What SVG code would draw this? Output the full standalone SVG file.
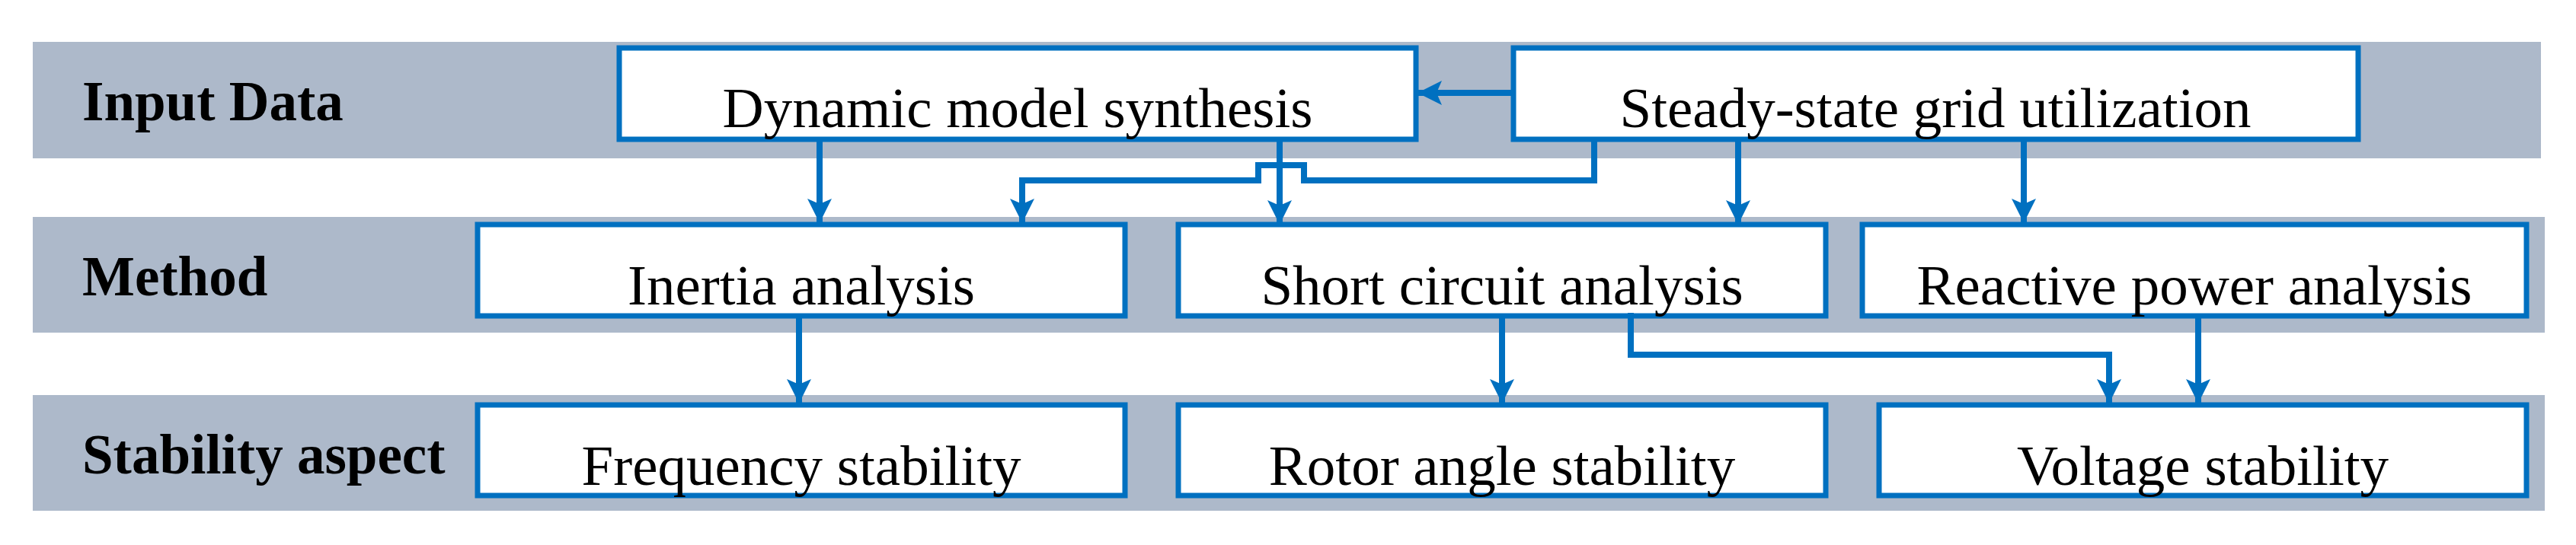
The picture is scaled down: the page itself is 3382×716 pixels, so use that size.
<svg xmlns="http://www.w3.org/2000/svg" width="3382" height="716" viewBox="0 0 3382 716">
<style>
.band{fill:#ADB9CA}
.box{fill:#fff;stroke:#0070C0;stroke-width:7}
.t{font-family:"Liberation Serif","Times New Roman",serif;font-size:75px;fill:#000;text-anchor:middle}
.h{font-family:"Liberation Serif","Times New Roman",serif;font-size:73px;font-weight:bold;fill:#000}
.c{fill:none;stroke:#0070C0;stroke-width:8;marker-end:url(#a)}
</style>
<defs>
<marker id="a" markerUnits="userSpaceOnUse" markerWidth="34" markerHeight="34" viewBox="0 0 34 34" refX="32" refY="17" orient="auto">
<path d="M0,1 L32,17 L0,33 L7,17 Z" fill="#0070C0"/>
</marker>
</defs>
<rect class="band" x="43" y="55" width="3293" height="153"/>
<rect class="band" x="43" y="285" width="3298" height="152"/>
<rect class="band" x="43" y="519" width="3298" height="152"/>
<text class="h" x="108" y="158">Input Data</text>
<text class="h" x="108" y="388">Method</text>
<text class="h" x="108" y="622">Stability aspect</text>
<g id="dyn"><rect class="box" x="813" y="63" width="1046" height="120"/><text class="t" x="1336" y="167">Dynamic model synthesis</text></g>
<g id="steady"><rect class="box" x="1987" y="63" width="1109" height="120"/><text class="t" x="2541" y="167">Steady-state grid utilization</text></g>
<g id="inertia"><rect class="box" x="627" y="295" width="850" height="120"/><text class="t" x="1052" y="400">Inertia analysis</text></g>
<g id="short"><rect class="box" x="1547" y="295" width="850" height="120"/><text class="t" x="1972" y="400">Short circuit analysis</text></g>
<g id="reactive"><rect class="box" x="2445" y="295" width="872" height="120"/><text class="t" x="2881" y="400">Reactive power analysis</text></g>
<g id="freq"><rect class="box" x="627" y="532" width="850" height="119"/><text class="t" x="1052" y="637">Frequency stability</text></g>
<g id="rotor"><rect class="box" x="1547" y="532" width="850" height="119"/><text class="t" x="1972" y="637">Rotor angle stability</text></g>
<g id="volt"><rect class="box" x="2467" y="532" width="850" height="119"/><text class="t" x="2892" y="637">Voltage stability</text></g>
<g id="connectors">
<path class="c" d="M1987,122 H1861"/>
<path class="c" d="M1076,183 V293"/>
<path class="c" d="M1680,183 V295"/>
<path class="c" d="M2093,183 V237 H1712 V217 H1652 V237 H1342 V293"/>
<path class="c" d="M2282,183 V295"/>
<path class="c" d="M2657,183 V293"/>
<path class="c" d="M1049,415 V530"/>
<path class="c" d="M1972,415 V530"/>
<path class="c" d="M2141,411 V466 H2769 V530"/>
<path class="c" d="M2886,415 V530"/>
</g>
</svg>
